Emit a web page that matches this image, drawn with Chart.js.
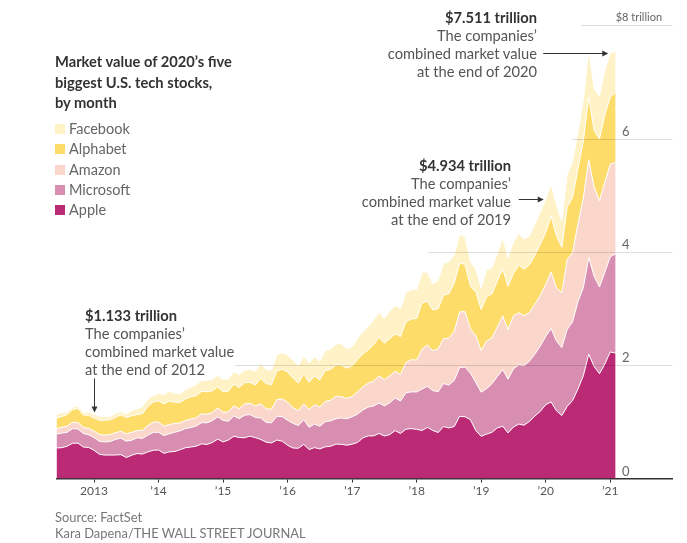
<!DOCTYPE html>
<html>
<head>
<meta charset="utf-8">
<script src="https://cdn.jsdelivr.net/npm/chart.js@4.4.1/dist/chart.umd.min.js"></script>
<style>
  html, body { margin: 0; padding: 0; background: #fff; }
  #wrap { position: relative; width: 687px; height: 543px; font-family: Lato, "Noto Sans", sans-serif; }
  #chart { position: absolute; left: 0; top: 0; }
  .txt { position: absolute; white-space: nowrap; }
  #title { left: 55px; top: 51px; font-size: 14.7px; line-height: 20.5px; font-weight: bold; color: #333; }
  #legend { left: 55px; top: 119px; font-size: 14.5px; line-height: 20.3px; color: #666; }
  #legend .row { display: flex; align-items: center; height: 20.3px; }
  #legend .sw { width: 10px; height: 10px; margin-right: 4px; }
  .note { font-size: 14.7px; line-height: 18px; color: #555; }
  .note b { color: #333; }
  #note2012 { left: 85px; top: 306px; }
  #note2019 { right: 176px; top: 156px; text-align: right; }
  #note2020 { right: 150px; top: 8px; text-align: right; }
  #source { left: 55px; top: 510px; font-size: 12.9px; line-height: 15.5px; color: #777; }
</style>
</head>
<body>
<div id="wrap">
  <canvas id="chart" width="687" height="543"></canvas>
  <div id="title" class="txt">Market value of 2020’s five<br>biggest U.S. tech stocks,<br>by month</div>
  <div id="legend" class="txt"></div>
  <div id="note2012" class="txt note"><b>$1.133 trillion</b><br>The companies’<br>combined market value<br>at the end of 2012</div>
  <div id="note2019" class="txt note"><b>$4.934 trillion</b><br>The companies’<br>combined market value<br>at the end of 2019</div>
  <div id="note2020" class="txt note"><b>$7.511 trillion</b><br>The companies’<br>combined market value<br>at the end of 2020</div>
  <div id="source" class="txt">Source: FactSet<br>Kara Dapena/THE WALL STREET JOURNAL</div>
</div>
<script>
// month-end values, May 2012 - Jan 2021, in trillions of dollars
const months = [
  '2012-05','2012-06','2012-07','2012-08','2012-09','2012-10','2012-11','2012-12',
  '2013-01','2013-02','2013-03','2013-04','2013-05','2013-06','2013-07','2013-08','2013-09','2013-10','2013-11','2013-12',
  '2014-01','2014-02','2014-03','2014-04','2014-05','2014-06','2014-07','2014-08','2014-09','2014-10','2014-11','2014-12',
  '2015-01','2015-02','2015-03','2015-04','2015-05','2015-06','2015-07','2015-08','2015-09','2015-10','2015-11','2015-12',
  '2016-01','2016-02','2016-03','2016-04','2016-05','2016-06','2016-07','2016-08','2016-09','2016-10','2016-11','2016-12',
  '2017-01','2017-02','2017-03','2017-04','2017-05','2017-06','2017-07','2017-08','2017-09','2017-10','2017-11','2017-12',
  '2018-01','2018-02','2018-03','2018-04','2018-05','2018-06','2018-07','2018-08','2018-09','2018-10','2018-11','2018-12',
  '2019-01','2019-02','2019-03','2019-04','2019-05','2019-06','2019-07','2019-08','2019-09','2019-10','2019-11','2019-12',
  '2020-01','2020-02','2020-03','2020-04','2020-05','2020-06','2020-07','2020-08','2020-09','2020-10','2020-11','2020-12',
  '2021-01'
];

const apple = [
  .540,.546,.571,.624,.626,.557,.550,.500,
  .428,.415,.416,.416,.423,.372,.412,.443,.433,.471,.500,.505,
  .446,.472,.478,.509,.545,.557,.572,.613,.603,.636,.697,.647,
  .682,.748,.725,.721,.750,.723,.692,.643,.629,.681,.660,.587,
  .540,.536,.604,.514,.547,.524,.561,.571,.609,.605,.589,.608,
  .637,.719,.754,.754,.797,.752,.777,.847,.796,.873,.882,.869,
  .850,.904,.851,.813,.919,.894,.920,1.100,1.091,1.040,.847,.746,
  .785,.817,.895,.924,.806,.911,.963,.943,1.012,1.105,1.187,1.305,
  1.354,1.196,1.113,1.274,1.378,1.581,1.817,2.195,1.980,1.851,2.024,2.235,
  2.215
];
const microsoft = [
  .245,.257,.247,.258,.249,.239,.223,.224,
  .230,.232,.239,.276,.291,.288,.265,.278,.277,.295,.317,.312,
  .314,.318,.340,.334,.338,.344,.356,.374,.382,.387,.393,.381,
  .331,.359,.333,.397,.380,.357,.377,.350,.355,.420,.434,.443,
  .435,.400,.434,.392,.416,.400,.443,.448,.448,.466,.468,.483,
  .500,.494,.508,.528,.538,.531,.561,.576,.574,.641,.649,.660,
  .732,.722,.703,.719,.759,.757,.814,.862,.877,.820,.851,.780,
  .801,.859,.904,1.001,.949,1.027,1.045,1.054,1.062,1.094,1.155,1.203,
  1.296,1.232,1.200,1.359,1.389,1.543,1.554,1.708,1.591,1.531,1.619,1.680,
  1.754
];
const amazon = [
  .096,.103,.106,.112,.115,.105,.114,.114,
  .121,.120,.121,.116,.122,.127,.137,.128,.143,.166,.180,.182,
  .164,.166,.154,.140,.143,.150,.144,.157,.149,.141,.157,.144,
  .165,.177,.173,.197,.200,.203,.251,.240,.240,.294,.312,.318,
  .277,.261,.280,.311,.342,.338,.359,.364,.397,.375,.357,.357,
  .392,.404,.424,.442,.476,.464,.474,.471,.463,.533,.567,.564,
  .700,.732,.702,.760,.792,.826,.866,.982,.977,.781,.825,.734,
  .842,.805,.875,.948,.874,.933,.921,.877,.858,.880,.893,.916,
  .997,.936,.970,1.233,1.218,1.376,1.580,1.727,1.577,1.521,1.588,1.634,
  1.610
];
const alphabet = [
  .190,.190,.207,.224,.247,.223,.229,.232,
  .249,.264,.263,.273,.289,.292,.295,.282,.292,.344,.354,.374,
  .398,.410,.377,.362,.380,.391,.394,.394,.400,.385,.372,.362,
  .366,.383,.379,.375,.372,.370,.452,.440,.437,.505,.523,.535,
  .523,.492,.524,.486,.505,.483,.545,.545,.555,.558,.535,.547,
  .568,.585,.587,.641,.685,.644,.655,.662,.675,.718,.720,.732,
  .822,.768,.721,.708,.766,.785,.853,.856,.839,.758,.771,.727,
  .780,.780,.815,.830,.766,.750,.843,.822,.843,.868,.898,.922,
  .985,.920,.798,.925,.980,.968,1.010,1.105,.995,1.095,1.190,1.183,
  1.240
];
const facebook = [
  .063,.067,.047,.039,.047,.046,.061,.063,
  .075,.066,.062,.067,.059,.060,.090,.101,.123,.123,.115,.134,
  .160,.175,.155,.153,.163,.174,.190,.195,.205,.197,.204,.217,
  .212,.222,.230,.221,.222,.241,.264,.252,.253,.287,.293,.297,
  .321,.306,.327,.337,.340,.328,.356,.362,.368,.377,.340,.332,
  .377,.394,.411,.436,.440,.438,.492,.500,.496,.523,.514,.513,
  .542,.518,.464,.499,.557,.565,.498,.507,.475,.437,.405,.378,
  .476,.462,.475,.551,.505,.550,.554,.530,.508,.547,.575,.585,
  .575,.548,.475,.583,.642,.647,.723,.835,.746,.749,.789,.778,
  .735
];

// x ticks sit at the end of each December
const tickMonths = ['2012-12','2013-12','2014-12','2015-12','2016-12','2017-12','2018-12','2019-12','2020-12'];
const tickLabels = ['2013','’14','’15','’16','’17','’18','’19','’20','’21'];
const yTicks = [0, 2, 4, 6, 8];
const yTickLabels = ['0', '2', '4', '6', '$8 trillion'];

const series = [
  { name: 'Apple', values: apple, color: '#bb2a74' },
  { name: 'Microsoft', values: microsoft, color: '#d78eb1' },
  { name: 'Amazon', values: amazon, color: '#fad6cb' },
  { name: 'Alphabet', values: alphabet, color: '#fddc69' },
  { name: 'Facebook', values: facebook, color: '#fef2c6' }
];

// legend, top entry first
const legend = document.getElementById('legend');
series.slice().reverse().forEach(s => {
  const row = document.createElement('div');
  row.className = 'row';
  row.innerHTML = '<span class="sw" style="background:' + s.color + '"></span>' + s.name;
  legend.appendChild(row);
});

const FONT = 'Lato, "Noto Sans", sans-serif';

// where each horizontal gridline starts (month index), so it stays clear of the notes
const gridFrom = [0, 33.2, 69.1, 95.9, 97.6];
const labelAt = 105.2;

const notes = [
  { month: '2012-12', dir: 'down', len: 34 },
  { month: '2019-12', dir: 'right', len: 25 },
  { month: '2020-12', dir: 'right', len: 65 }
];

function total(i) {
  return series.reduce((sum, s) => sum + s.values[i], 0);
}

function arrow(ctx, x1, y1, x2, y2) {
  const a = Math.atan2(y2 - y1, x2 - x1);
  ctx.beginPath();
  ctx.moveTo(x1, y1);
  ctx.lineTo(x2 - 4 * Math.cos(a), y2 - 4 * Math.sin(a));
  ctx.stroke();
  ctx.beginPath();
  ctx.moveTo(x2, y2);
  ctx.lineTo(x2 - 6 * Math.cos(a) + 3 * Math.sin(a), y2 - 6 * Math.sin(a) - 3 * Math.cos(a));
  ctx.lineTo(x2 - 6 * Math.cos(a) - 3 * Math.sin(a), y2 - 6 * Math.sin(a) + 3 * Math.cos(a));
  ctx.closePath();
  ctx.fill();
}

const overlay = {
  id: 'overlay',
  afterDatasetsDraw(chart) {
    const { ctx, chartArea, scales: { x, y } } = chart;
    ctx.save();
    ctx.lineWidth = 1;
    ctx.strokeStyle = 'rgba(0,0,0,0.13)';
    ctx.fillStyle = '#666';
    ctx.textBaseline = 'middle';
    yTicks.forEach((t, i) => {
      const py = Math.round(y.getPixelForValue(t)) + 0.5;
      if (t > 0) {
        ctx.beginPath();
        ctx.moveTo(x.getPixelForValue(gridFrom[i]), py);
        ctx.lineTo(chartArea.right, py);
        ctx.stroke();
      }
      let lx = x.getPixelForValue(labelAt);
      const txt = yTickLabels[i];
      ctx.font = '13px ' + FONT;
      if (txt.startsWith('$')) {
        ctx.font = '11px ' + FONT;
        lx -= ctx.measureText('$').width;
      }
      ctx.fillText(txt, lx, py - 8);
    });

    ctx.strokeStyle = '#333';
    ctx.fillStyle = '#333';
    notes.forEach(n => {
      const i = months.indexOf(n.month);
      const px = x.getPixelForValue(i);
      const py = y.getPixelForValue(total(i));
      if (n.dir === 'down') {
        arrow(ctx, Math.round(px) + 0.5, py - 2 - n.len, Math.round(px) + 0.5, py - 2);
      } else {
        const yy = Math.round(py) + 0.5;
        arrow(ctx, px - 2 - n.len, yy, px - 2, yy);
      }
    });
    ctx.restore();
  }
};

const config = {
  type: 'line',
  data: {
    datasets: series.map((s, k) => ({
      label: s.name,
      data: s.values.map((v, i) => ({ x: i, y: v })),
      backgroundColor: s.color,
      borderColor: '#ffffff',
      borderWidth: 1,
      pointRadius: 0,
      tension: 0,
      fill: k === 0 ? 'origin' : '-1'
    }))
  },
  options: {
    responsive: false,
    animation: false,
    layout: { padding: { left: 56.4, right: 14.4, top: 25.4, bottom: 44 } },
    plugins: { legend: { display: false }, tooltip: { enabled: false } },
    scales: {
      x: {
        type: 'linear',
        min: 0,
        max: 114.6,
        afterBuildTicks: axis => {
          axis.ticks = tickMonths.map(m => ({ value: months.indexOf(m) }));
        },
        ticks: {
          autoSkip: false,
          maxRotation: 0,
          padding: 1,
          color: '#555',
          font: { family: FONT, size: 12 },
          callback: (value, index) => tickLabels[index]
        },
        grid: { drawOnChartArea: false, drawTicks: true, tickLength: 4, color: '#333' },
        border: { display: true, color: '#333', width: 1.5 }
      },
      y: {
        display: false,
        stacked: true,
        min: 0,
        max: 8
      }
    }
  },
  plugins: [overlay]
};

new Chart(document.getElementById('chart'), config);
</script>
</body>
</html>
